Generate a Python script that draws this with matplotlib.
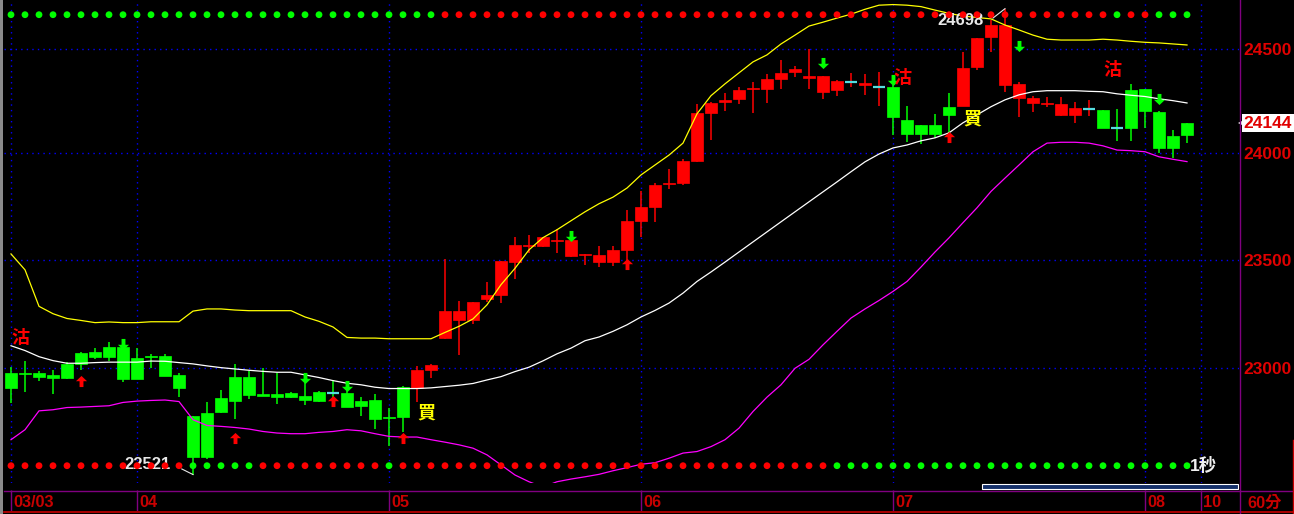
import matplotlib
matplotlib.use("Agg")
import matplotlib.pyplot as plt
import matplotlib.transforms as mtransforms
from matplotlib.path import Path
from matplotlib.lines import Line2D
from matplotlib.patches import Rectangle
from matplotlib.ticker import FixedLocator, FixedFormatter, NullLocator

plt.rcParams['font.family'] = ['Liberation Sans', 'Noto Sans CJK TC', 'DejaVu Sans']

# ---------------- data ----------------
opens = [22977, 22980, 22980, 22970, 23021, 23070, 23075, 23098, 23095, 23047,
         23057, 23057, 22970, 22785, 22799, 22866, 22961, 22961, 22884, 22884,
         22890, 22875, 22894, 22887, 22889, 22852, 22857, 22780, 22916, 22911,
         22994, 23138, 23223, 23223, 23316, 23337, 23491, 23562, 23562, 23586,
         23519, 23521, 23491, 23491, 23544, 23682, 23748, 23855, 23860, 23964,
         24194, 24247, 24261, 24308, 24309, 24357, 24392, 24359, 24296, 24305,
         24340, 24325, 24316, 24316, 24160, 24136, 24136, 24223, 24225, 24416,
         24558, 24327, 24263, 24240, 24237, 24185, 24185, 24210, 24208, 24120,
         24305, 24309, 24199, 24084, 24089]
closes = [22912, 22974, 22962, 22958, 22955, 23018, 23052, 23052, 22953, 22953,
          23051, 22967, 22912, 22601, 22601, 22803, 22852, 22880, 22876, 22871,
          22871, 22857, 22852, 22887, 22825, 22830, 22771, 22774, 22780, 22992,
          23017, 23261, 23261, 23303, 23337, 23494, 23568, 23568, 23604, 23591,
          23591, 23526, 23521, 23544, 23682, 23748, 23848, 23862, 23964, 24193,
          24242, 24253, 24305, 24313, 24357, 24386, 24405, 24372, 24372, 24348,
          24340, 24338, 24316, 24172, 24094, 24094, 24094, 24181, 24410, 24555,
          24617, 24617, 24334, 24263, 24240, 24237, 24218, 24210, 24119, 24120,
          24119, 24201, 24028, 24028, 24144]
highs = [23007, 23035, 22989, 22992, 23028, 23075, 23092, 23120, 23129, 23093,
         23066, 23064, 22978, 22785, 22847, 22902, 23020, 22989, 23001, 22980,
         22894, 22975, 22897, 22945, 22940, 22871, 22884, 22821, 22920, 23010,
         23021, 23502, 23310, 23306, 23397, 23494, 23604, 23616, 23606, 23642,
         23591, 23526, 23562, 23562, 23731, 23823, 23859, 23927, 23974, 24237,
         24245, 24289, 24317, 24344, 24381, 24448, 24420, 24501, 24372, 24353,
         24386, 24381, 24391, 24327, 24228, 24136, 24189, 24290, 24487, 24555,
         24641, 24698, 24343, 24273, 24268, 24268, 24247, 24256, 24208, 24211,
         24333, 24309, 24204, 24113, 24146]
lows = [22842, 22894, 22940, 22883, 22952, 22992, 23043, 23031, 22937, 22953,
        23003, 22967, 22868, 22521, 22591, 22799, 22771, 22862, 22872, 22839,
        22867, 22834, 22848, 22830, 22825, 22785, 22726, 22650, 22713, 22847,
        22957, 23134, 23060, 23204, 23303, 23298, 23410, 23530, 23560, 23530,
        23514, 23477, 23468, 23471, 23457, 23608, 23674, 23832, 23852, 23960,
        24064, 24204, 24237, 24195, 24243, 24309, 24366, 24309, 24262, 24273,
        24320, 24281, 24225, 24090, 24055, 24045, 24075, 24089, 24225, 24400,
        24489, 24292, 24176, 24196, 24220, 24180, 24147, 24180, 24119, 24060,
        24058, 24119, 24003, 23980, 24051]

upper = [23527, 23453, 23284, 23250, 23228, 23219, 23209, 23212, 23209, 23209,
         23213, 23213, 23213, 23262, 23272, 23272, 23267, 23264, 23264, 23264,
         23264, 23235, 23215, 23189, 23141, 23138, 23138, 23135, 23135, 23135,
         23135, 23164, 23192, 23226, 23291, 23384, 23460, 23546, 23603, 23640,
         23682, 23724, 23762, 23793, 23836, 23898, 23945, 23992, 24049, 24189,
         24276, 24333, 24386, 24439, 24473, 24526, 24569, 24613, 24632, 24652,
         24671, 24695, 24715, 24718, 24715, 24708, 24691, 24675, 24662, 24655,
         24648, 24618, 24594, 24569, 24549, 24545, 24545, 24545, 24549, 24545,
         24539, 24534, 24531, 24526, 24521]
middle = [23103, 23081, 23053, 23035, 23023, 23023, 23026, 23028, 23028, 23028,
          23033, 23032, 23026, 23020, 23011, 23003, 22997, 22991, 22986, 22982,
          22982, 22970, 22958, 22944, 22932, 22925, 22914, 22908, 22908, 22908,
          22911, 22917, 22923, 22931, 22947, 22962, 22985, 23005, 23034, 23066,
          23092, 23126, 23143, 23169, 23199, 23235, 23265, 23299, 23345, 23399,
          23443, 23489, 23536, 23583, 23630, 23677, 23724, 23771, 23818, 23865,
          23913, 23960, 23997, 24026, 24040, 24060, 24074, 24098, 24146, 24184,
          24223, 24256, 24280, 24295, 24300, 24300, 24300, 24297, 24295, 24285,
          24278, 24272, 24261, 24252, 24241]
lower = [22677, 22722, 22807, 22812, 22822, 22824, 22827, 22830, 22845, 22851,
         22854, 22856, 22849, 22767, 22741, 22737, 22732, 22725, 22714, 22707,
         22704, 22704, 22710, 22714, 22722, 22717, 22704, 22692, 22689, 22689,
         22677, 22666, 22654, 22639, 22609, 22564, 22519, 22489, 22465, 22489,
         22501, 22511, 22522, 22538, 22552, 22567, 22574, 22594, 22617, 22624,
         22646, 22677, 22729, 22804, 22869, 22925, 23000, 23041, 23107, 23169,
         23230, 23272, 23311, 23353, 23399, 23466, 23536, 23602, 23673, 23743,
         23820, 23883, 23945, 24008, 24049, 24053, 24053, 24049, 24036, 24016,
         24013, 24008, 23984, 23972, 23961]

signal_runs = [('S', 29), ('B', 34), ('S', 5), ('B', 10), ('S', 7)]
top_dot_runs = [('G', 31), ('R', 48), ('G', 1), ('R', 2), ('G', 3)]
bottom_dot_runs = [('R', 13), ('G', 5), ('R', 9), ('G', 1), ('R', 31), ('G', 26)]

up_idx = [5, 16, 23, 28, 44, 67]
up_price = [22943, 22686, 22850, 22683, 23480, 24079]
down_idx = [8, 21, 24, 40, 58, 63, 72, 82]
down_price = [23112, 22954, 22918, 23611, 24432, 24350, 24516, 24261]

sig_text = ['沽', '買', '沽', '買', '沽']
sig_idx = [0, 29, 63, 68, 78]
sig_price = [23140, 22798, 24362, 24165, 24401]

ytick_vals = [23000, 23500, 24000, 24500]
ytick_labels = ['23000', '23500', '24000', '24500']
date_pos = [0, 9, 27, 45, 63, 81, 85]
date_labels = ['03/03', '04', '05', '06', '07', '08', '10']

low_label, low_idx = '22521', 13
high_label, high_idx = '24698', 71
last_price = 24144

# ---------------- figure ----------------
W, H, DPI = 1294, 514, 100
fig = plt.figure(figsize=(W / DPI, H / DPI), dpi=DPI, facecolor='black')


def fx(p):
    return p / W


def fy(p):
    return 1 - p / H


def expand(runs):
    out = []
    for ch, n in runs:
        out.extend([ch] * n)
    return out


RED = '#FF0000'
GREEN = '#00FF00'
CYAN = '#55DDE0'
LABEL_RED = '#E00000'
DATE_RED = '#C80000'
PURPLE = '#800080'
GRIDBLUE = '#0000FF'

ax = fig.add_axes([fx(4), fy(483), (1239 - 4) / W, 483 / H], facecolor='black')
ax.set_yscale('log')
ax.set_xlim(-0.5, 87.714)
ax.set_ylim(22483.4, 24740.4)
for s in ax.spines.values():
    s.set_visible(False)
ax.set_xticks([])
ax.yaxis.tick_right()
ax.yaxis.set_major_locator(FixedLocator(ytick_vals))
ax.yaxis.set_major_formatter(FixedFormatter(ytick_labels))
ax.yaxis.set_minor_locator(NullLocator())
ax.tick_params(axis='y', which='both', length=0, pad=3, labelsize=12.5,
               labelcolor=LABEL_RED)
for lab in ax.get_yticklabels():
    lab.set_fontweight('bold')

# grid
for v in ytick_vals:
    ax.axhline(v, color=GRIDBLUE, lw=1.0, ls=(0, (1, 3)), zorder=0)
for p in date_pos:
    ax.axvline(p, color=GRIDBLUE, lw=1.0, ls=(0, (1, 3)), zorder=0)

n = len(opens)
xs = list(range(n))
signal = expand(signal_runs)

# candles
for i in xs:
    col = RED if signal[i] == 'B' else GREEN
    ax.vlines(i, lows[i], highs[i], color=col, lw=1.1, zorder=3)
    o, c = opens[i], closes[i]
    if o == c:
        ax.hlines(o, i - 0.43, i + 0.43, color=CYAN, lw=1.6, zorder=3)
    else:
        ax.bar(i, abs(c - o), bottom=min(o, c), width=0.86, color=col,
               edgecolor=col, linewidth=0.5, zorder=3)

# bands
ax.plot(xs, upper, color='#FFFF00', lw=0.9, zorder=4)
ax.plot(xs, middle, color='#FFFFFF', lw=0.9, zorder=4)
ax.plot(xs, lower, color='#FF00FF', lw=0.9, zorder=4)

# arrows
up_path = Path([(0, 1), (-1, 0.05), (-0.35, 0.05), (-0.35, -1), (0.35, -1),
                (0.35, 0.05), (1, 0.05), (0, 1)], closed=True)
down_path = Path([(x, -y) for x, y in up_path.vertices], closed=True)
ax.plot(up_idx, up_price, ls='none', marker=up_path, ms=8, color=RED,
        markeredgewidth=0, zorder=5)
ax.plot(down_idx, down_price, ls='none', marker=down_path, ms=8, color=GREEN,
        markeredgewidth=0, zorder=5)

# signal labels
for t, i, p in zip(sig_text, sig_idx, sig_price):
    col = '#FFFF00' if t == '買' else RED
    ax.text(i + 0.65, p, t, color=col, fontsize=13, fontweight='bold',
            ha='center', va='center', family=['Noto Sans CJK TC'], zorder=5)

# extreme labels
ax.text(low_idx - 4.93, 22566, low_label, color='#E8E8E8', fontsize=12,
        fontweight='bold', ha='left', va='center', zorder=4)
ax.plot([low_idx - 0.8, low_idx], [22546, lows[low_idx]], color='#E8E8E8', lw=0.8, zorder=4)
ax.text(high_idx - 4.8, 24642, high_label, color='#E8E8E8', fontsize=12,
        fontweight='bold', ha='left', va='center', zorder=4)
ax.plot([high_idx - 0.86, high_idx], [24652, highs[high_idx]], color='#E8E8E8', lw=0.8, zorder=4)
ax.text(84.2, 22563, '1秒', color='#F0F0F0', fontsize=12.5, fontweight='bold',
        ha='left', va='center', family=['Liberation Sans', 'Noto Sans CJK TC'], zorder=4)

# signal dots rows
trans = mtransforms.blended_transform_factory(ax.transData, ax.transAxes)
top_cols = [GREEN if ch == 'G' else RED for ch in expand(top_dot_runs)]
bot_cols = [GREEN if ch == 'G' else RED for ch in expand(bottom_dot_runs)]
ax.scatter(xs, [1 - 14.7 / 483] * n, s=24, c=top_cols, marker='o',
           linewidths=0, transform=trans, zorder=6, clip_on=False)
ax.scatter(xs, [1 - 465.7 / 483] * n, s=24, c=bot_cols, marker='o',
           linewidths=0, transform=trans, zorder=6, clip_on=False)

# current price tag
ytr = ax.get_yaxis_transform()
ax.text(1.0 + 4.5 / 1235, last_price, str(last_price), transform=ytr, ha='left',
        va='center', color=LABEL_RED, fontsize=12.5, fontweight='bold', zorder=7,
        bbox=dict(boxstyle='square,pad=0.1', fc='white', ec='none'), clip_on=False)
ax.plot([1.0 + 1.5 / 1235], [last_price], marker='<', ms=5, color='white',
        markeredgewidth=0, transform=ytr, clip_on=False, zorder=7)

# date strip
dax = fig.add_axes([fx(4), fy(511), (1239 - 4) / W, 21 / H], facecolor='black')
dax.set_xlim(-0.5, 87.714)
dax.set_ylim(0, 1)
dax.axis('off')
for p, lab in zip(date_pos, date_labels):
    dax.vlines(p, 0, 1, color=PURPLE, lw=1.0)
    dax.text(p + 2 / 14, 0.42, lab, color=DATE_RED, fontsize=11.7,
             fontweight='bold', ha='left', va='center')
fig.text(fx(1247), fy(503), '60分', color=DATE_RED, fontsize=11.7,
         fontweight='bold', ha='left', va='center',
         family=['Liberation Sans', 'Noto Sans CJK TC'])

# frame lines
fig.add_artist(Line2D([fx(4), 1], [fy(490.5), fy(490.5)], color=PURPLE, lw=1.0))
fig.add_artist(Line2D([fx(4), 1], [fy(511.5), fy(511.5)], color=DATE_RED, lw=1.2))
fig.add_artist(Line2D([fx(1239.5), fx(1239.5)], [0, 1], color=PURPLE, lw=1.0))
fig.add_artist(Line2D([fx(1293), fx(1293)], [0, fy(440)], color=DATE_RED, lw=1.0))
fig.add_artist(Rectangle((0, 0), fx(3), 1, transform=fig.transFigure,
                         fc='#8A8A8A', ec='none'))
fig.add_artist(Rectangle((fx(982), fy(489)), fx(1238 - 982), 5 / H,
                         transform=fig.transFigure, fc='#15306A', ec='white', lw=0.8))

fig.savefig('out.png', dpi=DPI, facecolor='black')
